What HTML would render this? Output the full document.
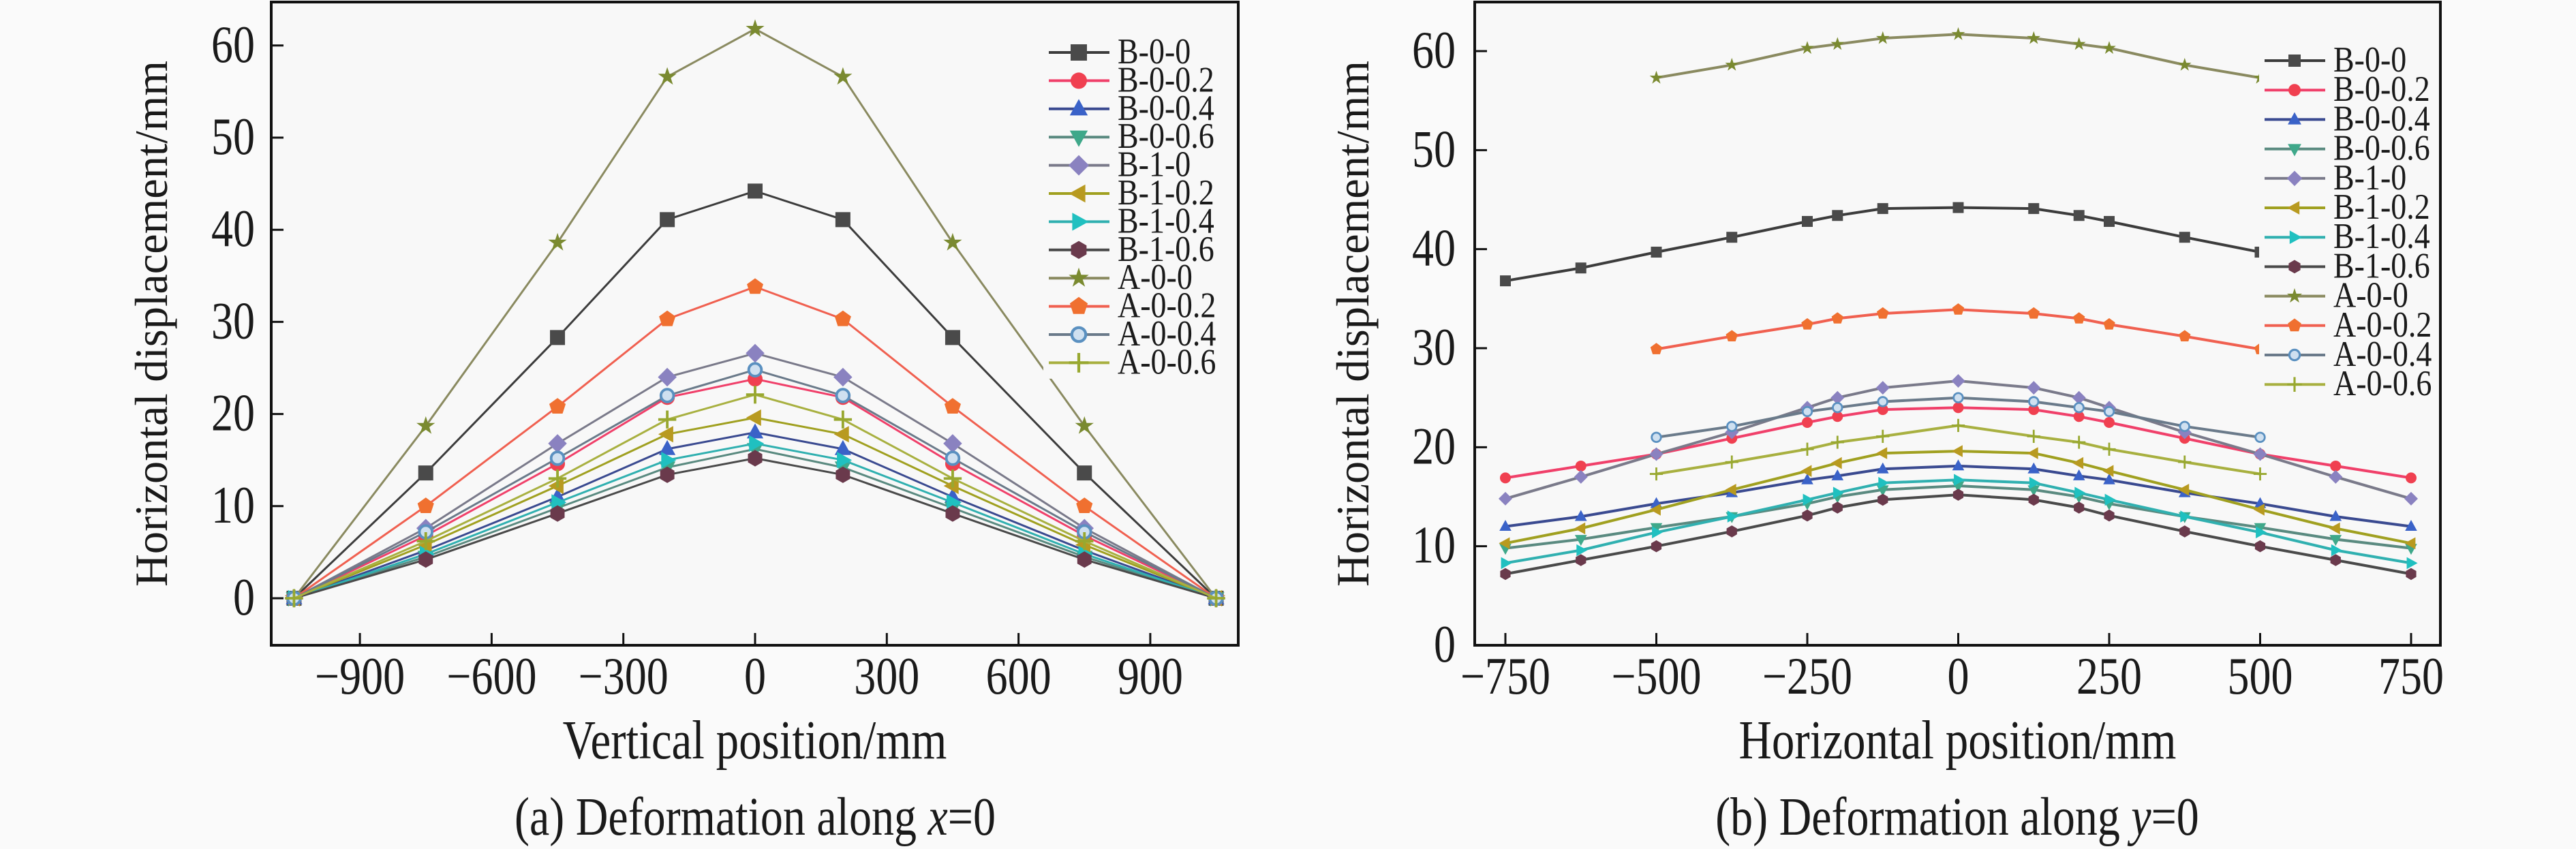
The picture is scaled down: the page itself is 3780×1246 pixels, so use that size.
<!DOCTYPE html>
<html><head><meta charset="utf-8">
<style>
html,body{margin:0;padding:0;background:#fafafa;}
svg{display:block;}
text{font-family:"Liberation Serif","DejaVu Serif",serif;fill:#1a1a1a;}
</style></head>
<body>
<svg id="root" width="3780" height="1246" viewBox="0 0 3780 1246" xmlns="http://www.w3.org/2000/svg" font-family="Liberation Serif, DejaVu Serif, serif">
<rect x="0" y="0" width="3780" height="1246" fill="#fafafa"/>
<g id="chartA"></g>
<g id="chartB"></g>
</svg>
<script>
const seriesNames = ["B-0-0","B-0-0.2","B-0-0.4","B-0-0.6","B-1-0","B-1-0.2","B-1-0.4","B-1-0.6","A-0-0","A-0-0.2","A-0-0.4","A-0-0.6"];
// Chart (a)
const xA = [-1050,-750,-450,-200,0,200,450,750,1050];
const aB00  = [0,13.6,28.3,41.1,44.2,41.1,28.3,13.6,0];
const aB002 = [0,6.8,14.6,21.8,23.8,21.8,14.6,6.8,0];
const aB004 = [0,5.2,11.0,16.2,18.0,16.2,11.0,5.2,0];
const aB006 = [0,4.5,9.8,14.2,16.2,14.2,9.8,4.5,0];
const aB10  = [0,7.6,16.8,24.0,26.6,24.0,16.8,7.6,0];
const aB102 = [0,5.8,12.2,17.8,19.6,17.8,12.2,5.8,0];
const aB104 = [0,4.8,10.4,15.0,16.8,15.0,10.4,4.8,0];
const aB106 = [0,4.2,9.2,13.4,15.2,13.4,9.2,4.2,0];
const aA00  = [0,18.7,38.6,56.6,61.8,56.6,38.6,18.7,0];
const aA002 = [0,10.0,20.8,30.3,33.8,30.3,20.8,10.0,0];
const aA004 = [0,7.2,15.2,22.0,24.8,22.0,15.2,7.2,0];
const aA006 = [0,6.2,13.0,19.4,22.1,19.4,13.0,6.2,0];
const xTicksA = [-900,-600,-300,0,300,600,900];
const yTicksA = [0,10,20,30,40,50,60];
// Chart (b)
const xB = [-750,-625,-500,-375,-250,-200,-125,0,125,200,250,375,500,625,750];
const bB00  = [36.8,38.1,39.7,41.2,42.8,43.4,44.1,44.2,44.1,43.4,42.8,41.2,39.7,38.1,36.8];
const bB002 = [16.9,18.1,19.3,20.9,22.5,23.1,23.8,24.0,23.8,23.1,22.5,20.9,19.3,18.1,16.9];
const bB004 = [12.0,13.0,14.3,15.4,16.7,17.1,17.8,18.1,17.8,17.1,16.7,15.4,14.3,13.0,12.0];
const bB006 = [9.8,10.7,11.9,13.0,14.3,15.0,15.7,16.1,15.7,15.0,14.3,13.0,11.9,10.7,9.8];
const bB10  = [14.8,17.0,19.3,21.5,24.0,25.0,26.0,26.7,26.0,25.0,24.0,21.5,19.3,17.0,14.8];
const bB102 = [10.3,11.8,13.7,15.7,17.6,18.4,19.4,19.6,19.4,18.4,17.6,15.7,13.7,11.8,10.3];
const bB104 = [8.3,9.6,11.4,13.0,14.7,15.4,16.4,16.7,16.4,15.4,14.7,13.0,11.4,9.6,8.3];
const bB106 = [7.2,8.6,10.0,11.5,13.1,13.9,14.7,15.2,14.7,13.9,13.1,11.5,10.0,8.6,7.2];
const bA00  = [null,null,57.3,58.6,60.3,60.7,61.3,61.7,61.3,60.7,60.3,58.6,57.3,null,null];
const bA002 = [null,null,29.9,31.2,32.4,33.0,33.5,33.9,33.5,33.0,32.4,31.2,29.9,null,null];
const bA004 = [null,null,21.0,22.1,23.6,24.0,24.6,25.0,24.6,24.0,23.6,22.1,21.0,null,null];
const bA006 = [null,null,17.3,18.5,19.8,20.5,21.1,22.2,21.1,20.5,19.8,18.5,17.3,null,null];
const xTicksB = [-750,-500,-250,0,250,500,750];
const yTicksB = [0,10,20,30,40,50,60];

const styles = [
 {line:"#3c3c3c", fill:"#4a4a4a", m:"square"},
 {line:"#f0406a", fill:"#f04050", m:"circle"},
 {line:"#3a4a90", fill:"#3a62c8", m:"up"},
 {line:"#5a8a80", fill:"#3fa88a", m:"down"},
 {line:"#7a7a8a", fill:"#8a82c0", m:"diamond"},
 {line:"#a0a020", fill:"#b89a20", m:"left"},
 {line:"#30b0b0", fill:"#20c0c0", m:"right"},
 {line:"#4a4a4a", fill:"#6a3a4c", m:"hex"},
 {line:"#8a8a60", fill:"#7a8a30", m:"star"},
 {line:"#f06050", fill:"#f07030", m:"pent"},
 {line:"#6a7a8a", fill:"#5a90c0", m:"ocircle"},
 {line:"#a8b040", fill:"#98a830", m:"plus"}
];
const NS="http://www.w3.org/2000/svg";
function mk(parent,tag,attrs){const e=document.createElementNS(NS,tag);for(const k in attrs)e.setAttribute(k,attrs[k]);parent.appendChild(e);return e;}
function txt(parent,x,y,s,size,anchor,sy,rot){
  const t=mk(parent,"text",{"font-size":size,"text-anchor":anchor||"start",transform:`translate(${x},${y}) rotate(${rot||0}) scale(1,${sy||1.2})`});
  t.textContent=s;return t;
}
function marker(g,kind,x,y,r,fill){
  let e;
  const p=(pts)=>mk(g,"polygon",{points:pts.map(q=>(x+q[0]*r).toFixed(1)+","+(y+q[1]*r).toFixed(1)).join(" "),fill:fill});
  if(kind==="square") e=mk(g,"rect",{x:x-r,y:y-r,width:2*r,height:2*r,fill:fill});
  else if(kind==="circle") e=mk(g,"circle",{cx:x,cy:y,r:r,fill:fill});
  else if(kind==="ocircle") e=mk(g,"circle",{cx:x,cy:y,r:r*0.85,fill:"#cfe0f0",stroke:fill,"stroke-width":r*0.35});
  else if(kind==="up") e=p([[0,-1.2],[1.1,0.8],[-1.1,0.8]]);
  else if(kind==="down") e=p([[0,1.2],[1.1,-0.8],[-1.1,-0.8]]);
  else if(kind==="left") e=p([[-1.2,0],[0.8,-1.1],[0.8,1.1]]);
  else if(kind==="right") e=p([[1.2,0],[-0.8,-1.1],[-0.8,1.1]]);
  else if(kind==="diamond") e=p([[0,-1.25],[1.25,0],[0,1.25],[-1.25,0]]);
  else if(kind==="hex"){const a=[];for(let i=0;i<6;i++){const t=Math.PI/3*i+Math.PI/6;a.push([Math.cos(t)*1.1,Math.sin(t)*1.1]);}e=p(a);}
  else if(kind==="pent"){const a=[];for(let i=0;i<5;i++){const t=-Math.PI/2+2*Math.PI/5*i;a.push([Math.cos(t)*1.15,Math.sin(t)*1.15]);}e=p(a);}
  else if(kind==="star"){const a=[];for(let i=0;i<10;i++){const t=-Math.PI/2+Math.PI/5*i;const rr=i%2?0.5:1.3;a.push([Math.cos(t)*rr,Math.sin(t)*rr]);}e=p(a);}
  else if(kind==="plus"){e=mk(g,"path",{d:`M${x-r*1.2},${y}H${x+r*1.2}M${x},${y-r*1.2}V${y+r*1.2}`,stroke:fill,"stroke-width":r*0.35});}
  return e;
}
function drawChart(root,cfg){
  const sx=v=>cfg.px0+(v-cfg.xv0)*(cfg.px1-cfg.px0)/(cfg.xv1-cfg.xv0);
  const sy=v=>cfg.py0+(v-cfg.yv0)*(cfg.py1-cfg.py0)/(cfg.yv1-cfg.yv0);
  const frame=mk(root,"rect",{x:cfg.L,y:cfg.T,width:cfg.R-cfg.L,height:cfg.B-cfg.T,fill:"#f8f8f8",stroke:"#111","stroke-width":4});
  
  
  const xax=mk(root,"g",{});
  
  
  cfg.xt.forEach(v=>{
    mk(xax,"line",{x1:sx(v),x2:sx(v),y1:cfg.B,y2:cfg.B-18,stroke:"#111","stroke-width":3});
    const t=txt(xax,sx(v),1018,(v<0?"\u2212"+(-v):""+v),64,"middle");
    
    
  });
  const yax=mk(root,"g",{});
  
  
  cfg.yt.forEach(v=>{
    mk(yax,"line",{x1:cfg.L,x2:cfg.L+18,y1:sy(v),y2:sy(v),stroke:"#111","stroke-width":3});
    const t=txt(yax,cfg.ylabX,sy(v)+24,""+v,64,"end");
    
    
  });
  const xt=txt(root,(cfg.L+cfg.R)/2,1113,cfg.xtitle,67,"middle");
  
  
  const yt=mk(root,"text",{"font-size":68,"text-anchor":"middle",textLength:772,lengthAdjust:"spacingAndGlyphs",transform:`translate(${cfg.ytX},475) rotate(-90)`});
  yt.textContent="Horizontal displacement/mm";
  
  
  const cap=mk(root,"text",{"font-size":66,"text-anchor":"middle",transform:`translate(${cfg.capX},1225) scale(1,1.2)`});
  
  
  cap.innerHTML=cfg.caption;
  cfg.series.forEach((vals,i)=>{
    const st=styles[i];
    const g=mk(root,"g",{});
    
    
    const pts=[];
    vals.forEach((v,j)=>{if(v!==null)pts.push([sx(cfg.xs[j]),sy(v)]);});
    mk(g,"polyline",{points:pts.map(q=>q[0].toFixed(1)+","+q[1].toFixed(1)).join(" "),fill:"none",stroke:st.line,"stroke-width":cfg.lw});
    pts.forEach(q=>{const m=marker(g,st.m,q[0],q[1],cfg.mr,st.fill);
      
      });
  });
  const lg=mk(root,"g",{});
  
  
  mk(lg,"rect",{x:cfg.lgX-8,y:cfg.lgY-24,width:cfg.R-cfg.lgX+4,height:cfg.lgStep*12+6,fill:"#f8f8f8"});
  seriesNames.forEach((n,i)=>{
    const y=cfg.lgY+i*cfg.lgStep, st=styles[i];
    const e=mk(lg,"g",{});
    
    
    mk(e,"line",{x1:cfg.lgX,x2:cfg.lgX+89,y1:y,y2:y,stroke:st.line,"stroke-width":4});
    marker(e,st.m,cfg.lgX+44,y,cfg.lmr,st.fill);
    txt(e,cfg.lgX+101,y+16,n,46,"start",1.15);
  });
}
drawChart(document.getElementById("chartA"),{
  L:398,R:1817,T:3,B:947,px0:1108,px1:1301.3,xv0:0,xv1:300,py0:878,py1:742.8,yv0:0,yv1:10,
  xt:xTicksA,yt:yTicksA,xs:xA,series:[aB00,aB002,aB004,aB006,aB10,aB102,aB104,aB106,aA00,aA002,aA004,aA006],
  ylabX:374,ytX:245,xtitle:"Vertical position/mm",capX:1108,
  caption:'(a) Deformation along <tspan font-style="italic">x</tspan>=0',
  lw:3,mr:11,lgX:1539,lgY:77,lgStep:41.4,lmr:12
});
drawChart(document.getElementById("chartB"),{
  L:2164,R:3581,T:3,B:947,px0:2209,px1:3538,xv0:-750,xv1:750,py0:947,py1:75,yv0:0,yv1:60,
  xt:xTicksB,yt:yTicksB,xs:xB,series:[bB00,bB002,bB004,bB006,bB10,bB102,bB104,bB106,bA00,bA002,bA004,bA006],
  ylabX:2136,ytX:2008,xtitle:"Horizontal position/mm",capX:2872,
  caption:'(b) Deformation along <tspan font-style="italic">y</tspan>=0',
  lw:4,mr:8,lgX:3323,lgY:89,lgStep:43.2,lmr:9
});
</script>
</body></html>
